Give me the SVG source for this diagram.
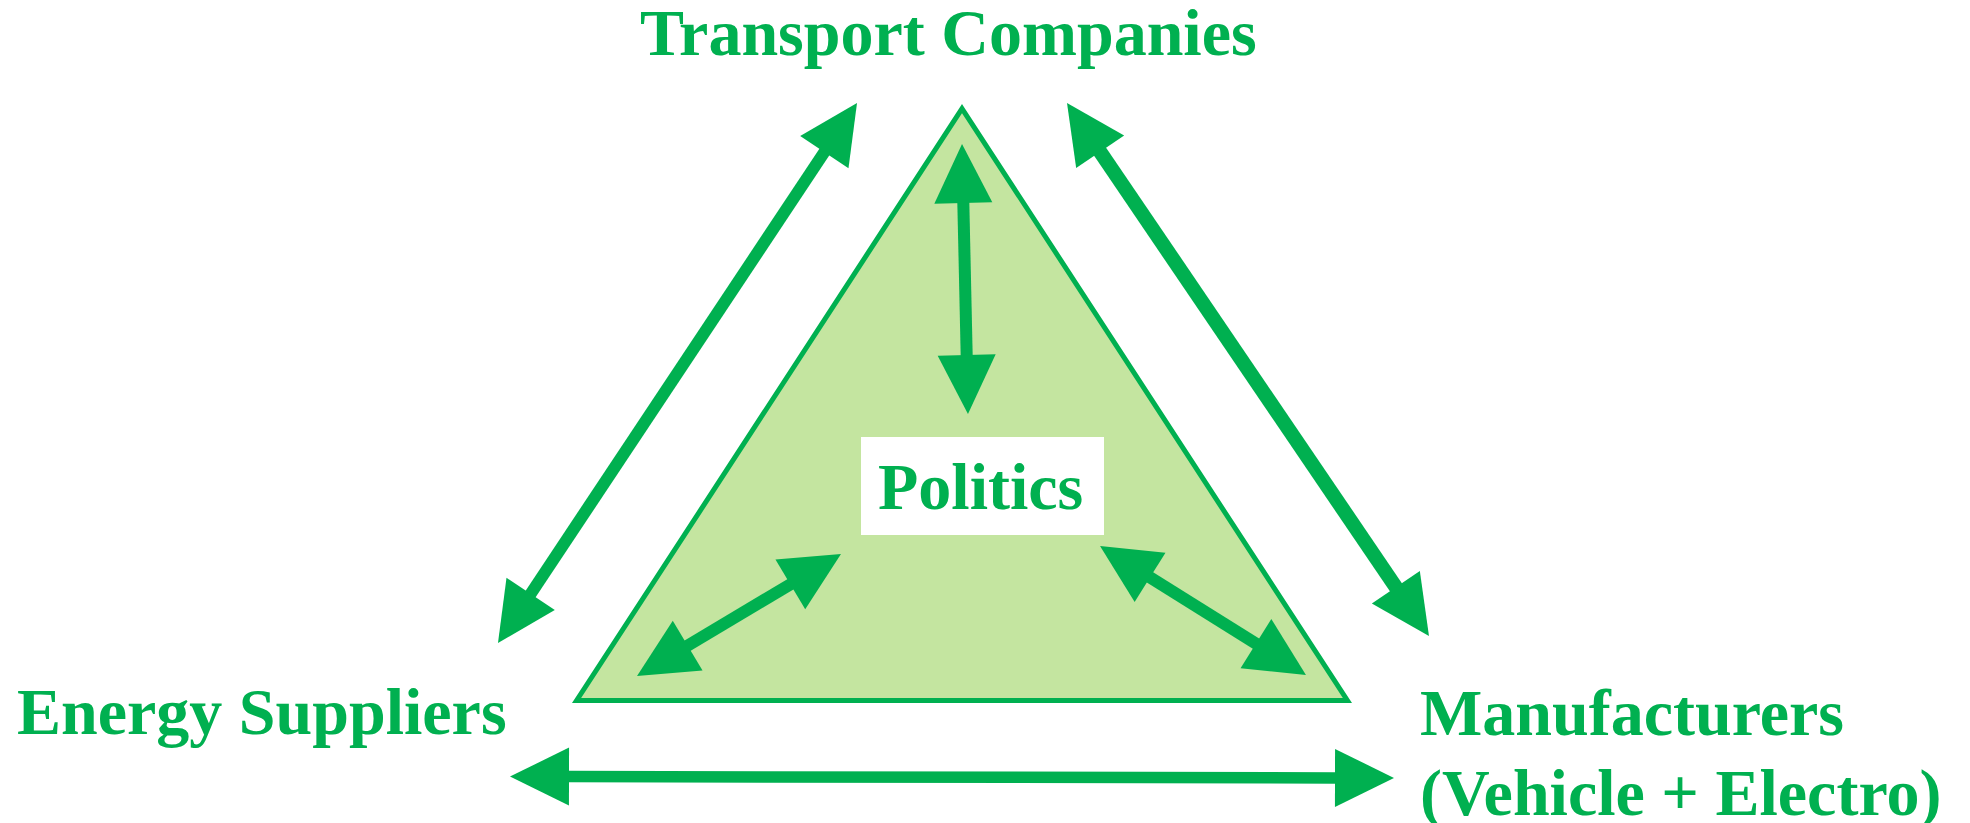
<svg xmlns="http://www.w3.org/2000/svg" width="1970" height="823" viewBox="0 0 1970 823">
  <style>
    .label { font-family: "Liberation Serif", "Times New Roman", serif; font-weight: bold; font-size: 66px; fill: #00B050; }
    .arrow { stroke: #00B050; fill: none; stroke-linecap: butt; marker-start: url(#head); marker-end: url(#head); }
    .arena { fill: #C4E5A0; stroke: #00B050; stroke-width: 5; stroke-linejoin: miter; }
  </style>
  <defs>
    <!-- filled arrowhead, fixed size independent of shaft width -->
    <marker id="head" markerUnits="userSpaceOnUse" viewBox="0 -30 60 60" markerWidth="60" markerHeight="60" refX="1" refY="0" orient="auto-start-reverse" overflow="visible">
      <path d="M0,-29 L59,0 L0,29 Z" fill="#00B050"/>
    </marker>
  </defs>

  <rect width="1970" height="823" fill="#FFFFFF"/>

  <!-- central arena -->
  <g id="arena">
    <polygon class="arena" points="962,108.6 1347.4,700.5 576.6,700.5"/>
  </g>

  <g id="politics">
    <rect x="861" y="437" width="243" height="98" fill="#FFFFFF"/>
    <text class="label" x="878" y="509">Politics</text>
  </g>

  <g id="transport">
    <text class="label" x="640" y="55">Transport Companies</text>
  </g>

  <g id="energy">
    <text class="label" x="17" y="734">Energy Suppliers</text>
  </g>

  <g id="manufacturers">
    <text class="label" x="1420" y="735">Manufacturers</text>
    <text class="label" x="1420" y="815">(Vehicle + Electro)</text>
  </g>

  <!-- double-headed connectors -->
  <g id="connectors">
    <line class="arrow" x1="824.9" y1="151.3" x2="530.1" y2="594.7" stroke-width="12"/>
    <line class="arrow" x1="1099.6" y1="151.0" x2="1396.4" y2="588.0" stroke-width="14.5"/>
    <line class="arrow" x1="568" y1="776.6" x2="1336" y2="777.9" stroke-width="11.5"/>
    <line class="arrow" x1="963.3" y1="202" x2="966.7" y2="356" stroke-width="12"/>
    <line class="arrow" x1="686.8" y1="646.2" x2="791.2" y2="583.8" stroke-width="12"/>
    <line class="arrow" x1="1149.2" y1="576.8" x2="1256.8" y2="644.2" stroke-width="12"/>
  </g>
</svg>
